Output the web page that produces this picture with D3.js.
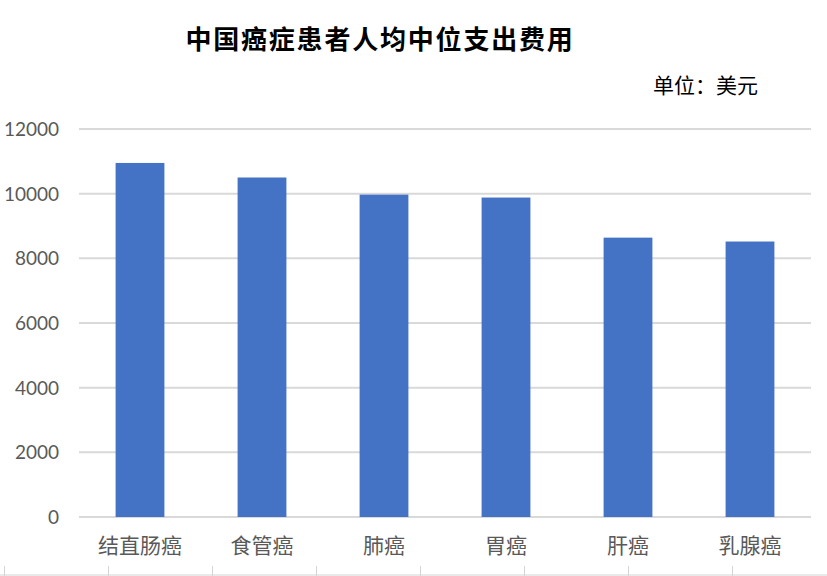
<!DOCTYPE html>
<html><head><meta charset="utf-8">
<script src="https://cdn.jsdelivr.net/npm/d3@7"></script>
<style>html,body{margin:0;padding:0;background:#fff;}svg{display:block;}</style>
</head><body>
<svg id="c" width="827" height="576"></svg>
<script>
const categories = ["结直肠癌","食管癌","肺癌","胃癌","肝癌","乳腺癌"];
const values = [10950, 10500, 9970, 9880, 8640, 8520];
const yTicks = [0, 2000, 4000, 6000, 8000, 10000, 12000];
const titleText = "中国癌症患者人均中位支出费用";
const unitText = "单位：美元";

(function () {
const svg = d3.select("#c");
const pLeft = 79, pRight = 811, pTop = 129, pBottom = 517;
const x = d3.scaleBand().domain(categories).range([pLeft, pRight]).paddingInner(0.6).paddingOuter(0.3);
const y = d3.scaleLinear().domain([0, 12000]).range([pBottom, pTop]);

// gridlines
svg.append("g").selectAll("line").data(yTicks).join("line")
  .attr("x1", pLeft).attr("x2", pRight)
  .attr("y1", d => y(d)).attr("y2", d => y(d))
  .attr("stroke", "#d9d9d9").attr("stroke-width", 2);

// y axis labels
const yAxis = d3.axisLeft(y).tickValues(yTicks).tickSize(0).tickPadding(0).tickFormat(d3.format("d"));
const ga = svg.append("g").attr("transform", `translate(59,0)`).call(yAxis);
ga.select(".domain").remove();
ga.selectAll("text").attr("font-family", "Lato, 'Noto Sans', sans-serif").attr("font-size", 19)
  .attr("fill", "#595959").attr("dy", "0.35em");

// bars
svg.append("g").selectAll("rect").data(values).join("rect")
  .attr("x", (d, i) => x(categories[i]))
  .attr("width", x.bandwidth())
  .attr("y", d => y(d))
  .attr("height", d => y(0) - y(d))
  .attr("fill", "#4472c4");

// x axis labels
const xAxis = d3.axisBottom(x).tickSize(0).tickPadding(0);
const gx = svg.append("g").attr("transform", `translate(0,${pBottom})`).call(xAxis);
gx.select(".domain").remove();
gx.selectAll("text").attr("font-family", "'Noto Sans CJK SC', sans-serif").attr("font-size", 21)
  .attr("fill", "#595959").attr("dy", null).attr("y", 36);

// title
svg.append("text").attr("x", 380).attr("y", 49).attr("text-anchor", "middle")
  .attr("font-family", "'Noto Sans CJK SC', sans-serif").attr("font-weight", "bold")
  .attr("font-size", 26).attr("letter-spacing", 1.8).attr("fill", "#000")
  .text(titleText);

// unit
svg.append("text").attr("x", 653).attr("y", 93)
  .attr("font-family", "'Noto Sans CJK SC', sans-serif").attr("font-size", 21)
  .attr("fill", "#000").text(unitText);

// bottom spreadsheet cell lines
const cellXs = [4, 108, 212, 316, 420, 524, 628, 732];
svg.append("line").attr("x1", 0).attr("x2", 827).attr("y1", 575).attr("y2", 575)
  .attr("stroke", "#d4d4d4").attr("stroke-width", 1);
svg.append("g").selectAll("line").data(cellXs).join("line")
  .attr("x1", d => d + 0.5).attr("x2", d => d + 0.5).attr("y1", 566).attr("y2", 576)
  .attr("stroke", "#d4d4d4").attr("stroke-width", 1);
})();
</script>
</body></html>
